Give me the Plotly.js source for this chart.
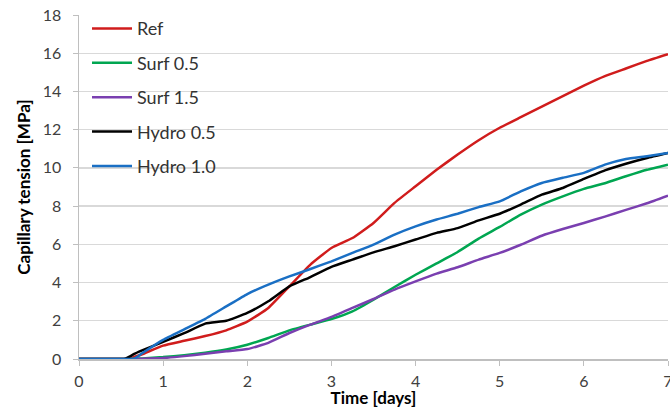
<!DOCTYPE html>
<html>
<head>
<meta charset="utf-8">
<script src="https://cdn.plot.ly/plotly-3.0.1.min.js"></script>
<style>html,body{margin:0;padding:0;background:#fff;}#chart{width:670px;height:408px;}</style>
</head>
<body>
<div id="chart"></div>
<script>
const time = [0, 0.5, 0.55, 0.6, 0.65, 0.75, 1, 1.25, 1.5, 1.75, 2, 2.25, 2.5, 2.75, 3, 3.25, 3.5, 3.75, 4, 4.25, 4.5, 4.75, 5, 5.25, 5.5, 5.75, 6, 6.25, 6.5, 6.75, 7];
const ref = [0,0,0,0.02,0.1,0.25,0.7,0.95,1.2,1.5,1.95,2.67,3.8,4.94,5.81,6.33,7.12,8.17,9.04,9.9,10.7,11.45,12.1,12.65,13.2,13.75,14.3,14.8,15.2,15.6,15.95];
const surf05 = [0,0,0,0,0.01,0.03,0.1,0.2,0.33,0.5,0.75,1.1,1.5,1.8,2.09,2.49,3.1,3.77,4.41,5.0,5.6,6.3,6.91,7.55,8.08,8.51,8.9,9.2,9.56,9.9,10.17];
const surf15 = [0,0,0,0,0,0.01,0.05,0.15,0.28,0.4,0.52,0.84,1.36,1.8,2.2,2.67,3.14,3.63,4.06,4.47,4.8,5.2,5.55,5.98,6.45,6.8,7.12,7.45,7.8,8.15,8.55];
const hydro05 = [0,0,0.02,0.12,0.25,0.45,0.9,1.35,1.85,2.0,2.41,3.02,3.8,4.29,4.82,5.2,5.58,5.9,6.25,6.6,6.85,7.25,7.6,8.08,8.6,8.95,9.42,9.87,10.22,10.52,10.78];
const hydro10 = [0,0,0,0,0,0.3,1.0,1.55,2.1,2.75,3.4,3.89,4.32,4.71,5.11,5.55,5.98,6.51,6.94,7.3,7.6,7.95,8.25,8.77,9.21,9.48,9.74,10.17,10.47,10.61,10.78];

const names = ['Ref', 'Surf 0.5', 'Surf 1.5', 'Hydro 0.5', 'Hydro 1.0'];
const series = [ref, surf05, surf15, hydro05, hydro10];
const colors = ['#d01c1c', '#00a651', '#7a3fb0', '#000000', '#1a6fc4'];

const FONT = 'Lato, "Open Sans", sans-serif';
const traces = series.map((s, i) => ({
  x: time, y: s, name: names[i], type: 'scatter', mode: 'lines',
  legendgroup: 'g' + i,
  line: {color: colors[i], width: 2.5, shape: 'spline', smoothing: 0.4}
}));

const layout = {
  width: 670, height: 408,
  margin: {l: 79, r: 2, t: 15, b: 49},
  paper_bgcolor: '#fff', plot_bgcolor: '#fff',
  font: {family: FONT, size: 14, color: '#404040'},
  showlegend: true,
  legend: {x: 0.0136, y: 1.014, xanchor: 'left', yanchor: 'top', bgcolor: 'rgba(0,0,0,0)',
           itemwidth: 40,
           font: {family: FONT, size: 18, color: '#333'}, traceorder: 'grouped', tracegroupgap: 8},
  xaxis: {
    range: [0, 7], tickvals: [0,1,2,3,4,5,6,7], showgrid: false, zeroline: false,
    showline: true, linecolor: '#bfbfbf', linewidth: 1.5,
    ticks: 'outside', ticklen: 5, tickcolor: '#bfbfbf',
    ticklabeloverflow: 'allow', ticklabelstandoff: 2,
    tickfont: {family: FONT, size: 16, color: '#404040'},
    title: {text: '<b>Time [days]</b>', font: {family: FONT, size: 17, color: '#000'}, standoff: 2}
  },
  yaxis: {
    range: [0, 18], tickvals: [0,2,4,6,8,10,12,14,16,18], showgrid: true, gridcolor: '#d9d9d9', gridwidth: 1.3,
    zeroline: false, showline: true, linecolor: '#bfbfbf', linewidth: 1.5,
    ticks: 'outside', ticklen: 5, tickcolor: '#bfbfbf',
    ticklabelstandoff: 8,
    tickfont: {family: FONT, size: 16, color: '#404040'},
    title: {text: '<b>Capillary tension [MPa]</b>', font: {family: FONT, size: 17, color: '#000'}, standoff: 8}
  }
};
Plotly.newPlot('chart', traces, layout, {displayModeBar: false, staticPlot: true});
</script>
</body>
</html>
